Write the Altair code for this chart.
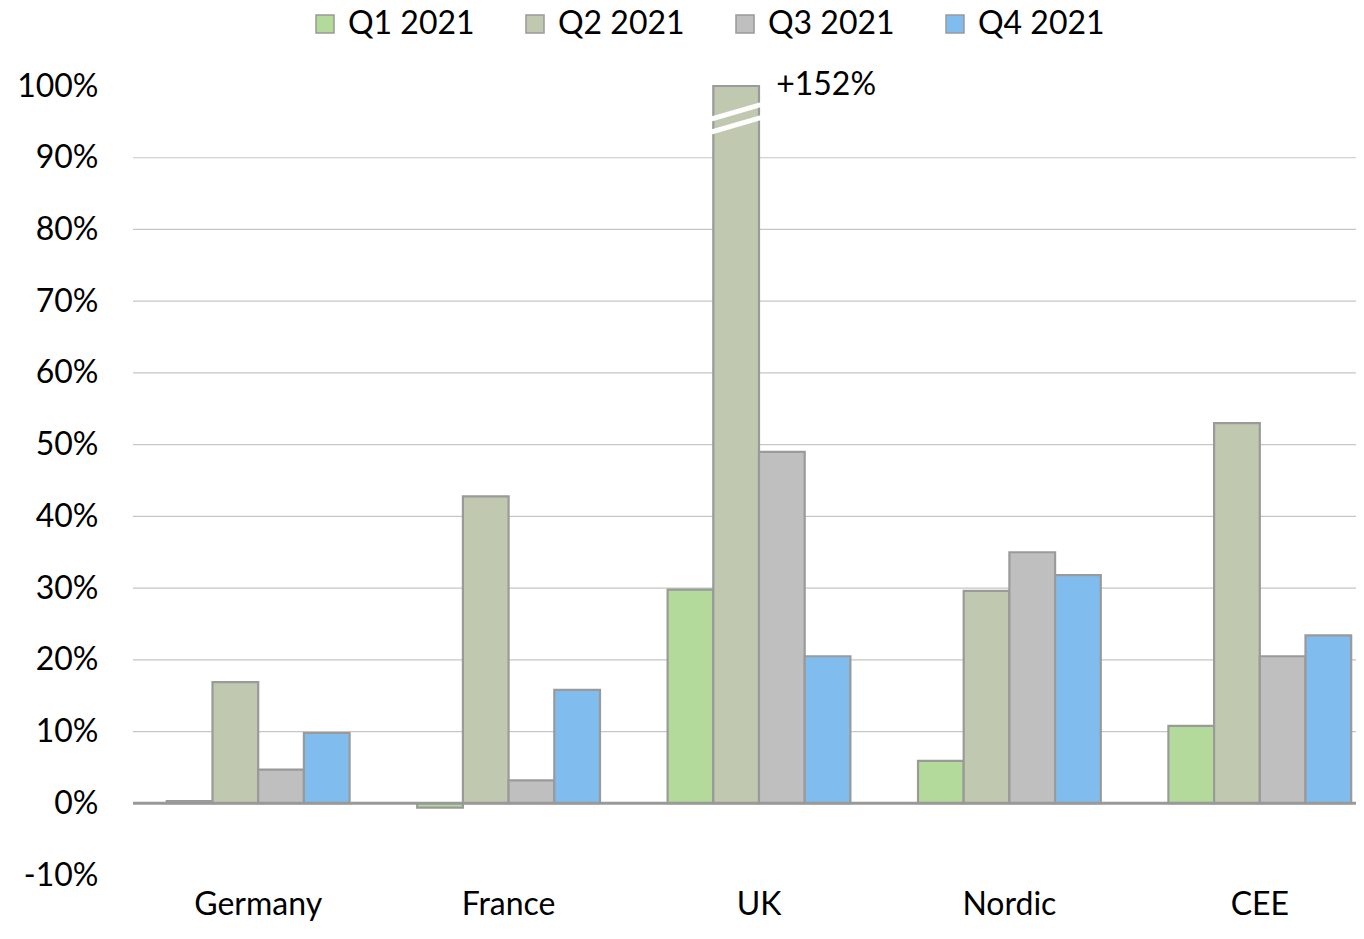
import altair as alt
import pandas as pd

regions = ["Germany", "France", "UK", "Nordic", "CEE"]
quarters = ["Q1 2021", "Q2 2021", "Q3 2021", "Q4 2021"]
q1 = [0.003, -0.006, 0.298, 0.059, 0.108]
q2 = [0.169, 0.428, 1.52, 0.296, 0.530]
q3 = [0.047, 0.032, 0.490, 0.350, 0.205]
q4 = [0.098, 0.158, 0.205, 0.318, 0.234]
colors = ["#B4DA9B", "#C0C9AF", "#BFBFBF", "#80BDEE"]
y_ticks = [-0.1, 0.0, 0.1, 0.2, 0.3, 0.4, 0.5, 0.6, 0.7, 0.8, 0.9, 1.0]
grid_levels = [0.1, 0.2, 0.3, 0.4, 0.5, 0.6, 0.7, 0.8, 0.9]
zero_level = [0.0]
axis_cap = 1.0

rows = []
for q, vals in zip(quarters, [q1, q2, q3, q4]):
    for r, v in zip(regions, vals):
        rows.append({"region": r, "quarter": q, "value": v})
df = pd.DataFrame(rows)

FONT = "Lato"
ydom = alt.Scale(domain=[-0.1, 1.0], nice=False)
y_axis = alt.Axis(title=None, values=y_ticks, grid=False,
                  labelExpr="replace(format(datum.value, '.0%'), '\u2212', '-')",
                  domain=False, ticks=False, labelPadding=35,
                  labelFontSize=32, labelColor="black", labelFont=FONT)

x_enc = alt.X(
    "region:N", sort=regions,
    scale=alt.Scale(range=[0, 1252], paddingInner=0.27, paddingOuter=0.135),
    axis=alt.Axis(title=None, domain=False, ticks=False, labelFontSize=32,
                  labelPadding=14, labelAngle=0, labelColor="black", labelFont=FONT),
)
xo_enc = alt.XOffset("quarter:N", sort=quarters, scale=alt.Scale(paddingInner=0, paddingOuter=0))

grid = alt.Chart(pd.DataFrame({"level": grid_levels})).mark_rule(
    color="#C6C6C6", strokeWidth=1.2
).encode(y=alt.Y("level:Q", scale=ydom, axis=y_axis))

bars = alt.Chart(df).transform_calculate(
    shown=f"min(datum.value, {axis_cap})"
).mark_bar(stroke="#9A9A9A", strokeWidth=2.2).encode(
    x=x_enc,
    xOffset=xo_enc,
    y=alt.Y("shown:Q", scale=ydom, axis=y_axis),
    color=alt.Color(
        "quarter:N", sort=quarters,
        scale=alt.Scale(domain=quarters, range=colors),
        legend=alt.Legend(
            orient="none", legendX=176, legendY=-78, direction="horizontal",
            title=None, symbolType="square", symbolSize=324, padding=0,
            symbolStrokeColor="#999999", symbolStrokeWidth=1.5,
            labelFontSize=32, labelFont=FONT, labelColor="black",
            columnPadding=44, labelOffset=7,
        ),
    ),
)

zero = alt.Chart(pd.DataFrame({"level": zero_level})).mark_rule(
    color="#999999", strokeWidth=3
).encode(y=alt.Y("level:Q", scale=ydom, axis=y_axis))

break_path = ("M -1 -0.06 L 1 -0.64 L 1 -0.44 L -1 0.14 Z "
              "M -1 0.44 L 1 -0.14 L 1 0.06 L -1 0.64 Z")
breaks = alt.Chart(df).transform_filter(
    f"datum.value > {axis_cap}"
).transform_calculate(
    mark_y=f"{axis_cap} - 0.045"
).mark_point(
    shape=break_path, size=2704, filled=True, fill="white", opacity=1, strokeWidth=0
).encode(
    x=x_enc, xOffset=xo_enc,
    y=alt.Y("mark_y:Q", scale=ydom, axis=y_axis),
)

labels = alt.Chart(df).transform_filter(
    f"datum.value > {axis_cap}"
).transform_calculate(
    shown=f"min(datum.value, {axis_cap})",
    txt="'+' + format(datum.value, '.0%')",
).mark_text(
    align="left", baseline="middle", dx=40, dy=-1, fontSize=32, font=FONT, color="black"
).encode(
    x=x_enc, xOffset=xo_enc,
    y=alt.Y("shown:Q", scale=ydom, axis=y_axis),
    text="txt:N",
)

chart = alt.layer(grid, bars, zero, breaks, labels).properties(
    width=1223, height=789,
    autosize=alt.AutoSizeParams(type="none"),
    padding={"left": 125, "top": 78, "right": 0, "bottom": 46},
).configure(font=FONT, view=alt.ViewConfig(stroke=None))

chart.save("out.html", embed_options={"renderer": "svg", "actions": False})
